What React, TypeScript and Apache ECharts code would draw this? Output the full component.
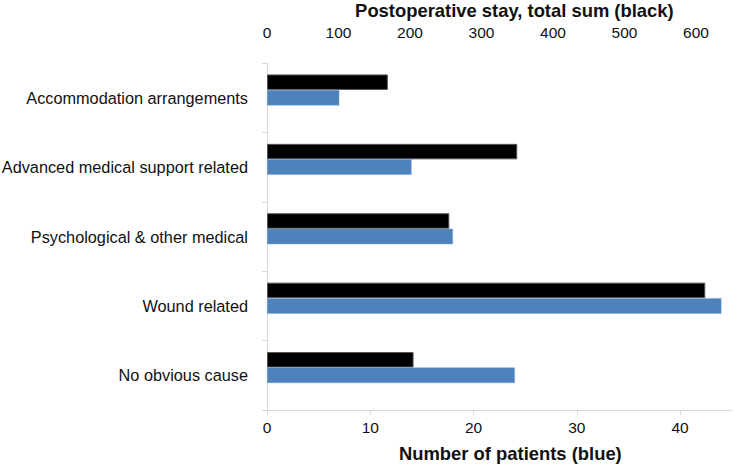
import React, { useEffect, useRef } from "react";
import * as echarts from "echarts";

const categories = [
  "Accommodation arrangements",
  "Advanced medical support related",
  "Psychological & other medical",
  "Wound related",
  "No obvious cause",
];
const staySum = [169, 350, 255, 613, 205];
const patients = [7, 14, 18, 44, 24];
const spacer: (number | null)[] = [null, null, null, null, null];

const FONT = "Liberation Sans, Arial, sans-serif";

export default function App() {
  const ref = useRef<HTMLDivElement>(null);
  useEffect(() => {
    if (!ref.current) return;
    const chart = echarts.init(ref.current, undefined, { renderer: "svg" });
    chart.setOption({
      animation: false,
      textStyle: { fontFamily: FONT },
      grid: { left: 267, right: 2.25, top: 63, bottom: 56, containLabel: false, outerBoundsMode: "none" },
      xAxis: [
        {
          type: "value",
          position: "bottom",
          min: 0,
          max: 45,
          interval: 10,
          name: "Number of patients (blue)",
          nameLocation: "middle",
          nameGap: 34,
          nameTextStyle: { fontSize: 18.4, fontWeight: "bold", color: "#111", fontFamily: FONT, padding: [0, 0, 0, 22] },
          axisLine: { show: true, lineStyle: { color: "#d9d9d9", width: 1 } },
          axisTick: { show: true, length: 5, lineStyle: { color: "#d9d9d9" } },
          axisLabel: { fontSize: 15.5, color: "#111", margin: 9, showMaxLabel: false, fontFamily: FONT },
          splitLine: { show: false },
        },
        {
          type: "value",
          position: "top",
          min: 0,
          max: 650,
          interval: 100,
          name: "Postoperative stay, total sum (black)",
          nameLocation: "middle",
          nameGap: 41,
          nameTextStyle: { fontSize: 18.4, fontWeight: "bold", color: "#111", fontFamily: FONT, padding: [0, 0, 0, 30] },
          axisLine: { show: false },
          axisTick: { show: false },
          axisLabel: { fontSize: 15.5, color: "#111", margin: 23, showMaxLabel: false, fontFamily: FONT },
          splitLine: { show: false },
        },
      ],
      yAxis: {
        type: "category",
        data: categories,
        inverse: true,
        axisLine: { show: true, lineStyle: { color: "#d9d9d9", width: 1 } },
        axisTick: { show: true, length: 5, lineStyle: { color: "#d9d9d9" } },
        axisLabel: { fontSize: 16.3, color: "#111", margin: 19, fontFamily: FONT },
        splitLine: { show: false },
      },
      series: [
        {
          name: "Postoperative stay, total sum",
          type: "bar",
          xAxisIndex: 1,
          data: staySum,
          barGap: "0%",
          barCategoryGap: "33%",
          itemStyle: { color: "#000000", borderColor: "#555555", borderWidth: 1 },
        },
        {
          name: "Number of patients",
          type: "bar",
          xAxisIndex: 0,
          data: patients,
          barGap: "0%",
          barCategoryGap: "33%",
          itemStyle: { color: "#4f81bd", borderColor: "#7da2cf", borderWidth: 0.5 },
        },
        {
          name: "spacer",
          type: "bar",
          xAxisIndex: 0,
          data: spacer,
          barGap: "0%",
          barCategoryGap: "33%",
          silent: true,
        },
      ],
    });
    return () => chart.dispose();
  }, []);
  return <div ref={ref} style={{ width: 734, height: 466, position: "absolute", left: 0, top: 0, background: "#fff" }} />;
}
